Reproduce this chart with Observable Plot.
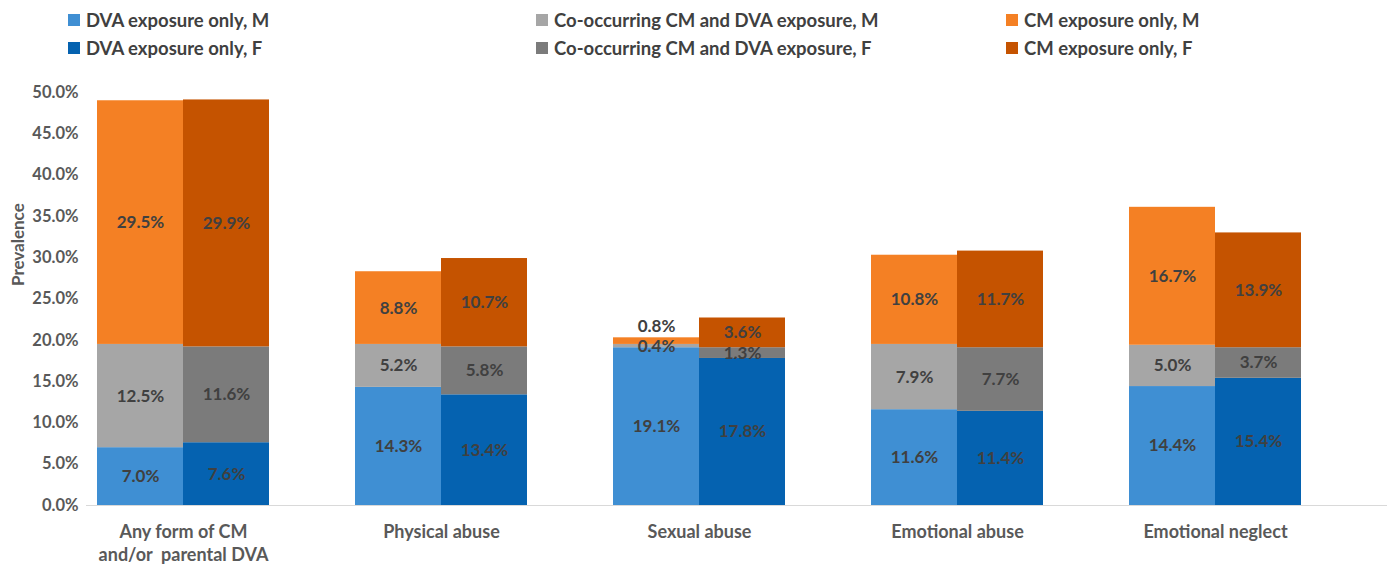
<!DOCTYPE html>
<html>
<head>
<meta charset="utf-8">
<script src="https://cdn.jsdelivr.net/npm/d3@7"></script>
<script src="https://cdn.jsdelivr.net/npm/@observablehq/plot@0.6"></script>
<style>
  html, body { margin: 0; padding: 0; background: #fff; }
  #wrap { width: 1392px; height: 568px; position: relative; font-family: Lato, "Open Sans", sans-serif; }
  #legend { position: relative; width: 1392px; height: 70px; }
  .item { position: absolute; display: flex; align-items: center; font-size: 18.5px; font-weight: bold; color: #404040; white-space: nowrap; }
  .sw { width: 12px; height: 12px; margin-right: 6px; }
  svg { display: block; }
</style>
</head>
<body>
<div id="wrap">
  <div id="legend"></div>
  <div id="chart"></div>
</div>
<script>
const categories = ["Any form of CM\nand/or  parental DVA", "Physical abuse", "Sexual abuse", "Emotional abuse", "Emotional neglect"];
const sexes = ["M", "F"];
const types = ["DVA exposure only", "Co-occurring CM and DVA exposure", "CM exposure only"];

const dvaM = [7.0, 14.3, 19.1, 11.6, 14.4];
const dvaF = [7.6, 13.4, 17.8, 11.4, 15.4];
const coM  = [12.5, 5.2, 0.4, 7.9, 5.0];
const coF  = [11.6, 5.8, 1.3, 7.7, 3.7];
const cmM  = [29.5, 8.8, 0.8, 10.8, 16.7];
const cmF  = [29.9, 10.7, 3.6, 11.7, 13.9];

const yTicks = [0, 5, 10, 15, 20, 25, 30, 35, 40, 45, 50];

const seriesNames = [
  "DVA exposure only, M", "DVA exposure only, F",
  "Co-occurring CM and DVA exposure, M", "Co-occurring CM and DVA exposure, F",
  "CM exposure only, M", "CM exposure only, F"
];
const seriesColors = ["#3f8fd3", "#0562b0", "#a6a6a6", "#7b7b7b", "#f48024", "#c55300"];

const values = {
  "DVA exposure only": {M: dvaM, F: dvaF},
  "Co-occurring CM and DVA exposure": {M: coM, F: coF},
  "CM exposure only": {M: cmM, F: cmF}
};

// Build rows with stacked extents
const rows = [];
categories.forEach((c, i) => {
  sexes.forEach(s => {
    let base = 0;
    types.forEach(t => {
      const v = values[t][s][i];
      rows.push({cat: c, sex: s, key: c + "|" + s, type: t, series: t + ", " + s, value: v, y1: base, y2: base + v, mid: base + v / 2});
      base += v;
    });
  });
});

// x domain: bars with gap slots between groups
const xDomain = [];
categories.forEach((c, i) => {
  xDomain.push(c + "|M", c + "|F");
  if (i < categories.length - 1) xDomain.push("gap" + i);
});

// Legend
const legend = document.getElementById("legend");
const legendPos = [[68, 9], [68, 37], [536, 9], [536, 37], [1006, 9], [1006, 37]];
seriesNames.forEach((n, i) => {
  const d = document.createElement("div");
  d.className = "item";
  d.style.left = legendPos[i][0] + "px";
  d.style.top = legendPos[i][1] + "px";
  d.innerHTML = `<span class="sw" style="background:${seriesColors[i]}"></span><span>${n}</span>`;
  legend.appendChild(d);
});

const xRange = [54, 1344];
const step = (xRange[1] - xRange[0]) / (xDomain.length + 1);

const isTinyTop = d => d.type === "CM exposure only" && d.value < 1;

const chart = Plot.plot({
  width: 1392,
  height: 498,
  marginLeft: 86,
  marginRight: 5,
  marginTop: 22,
  marginBottom: 63,
  style: {fontFamily: "Lato, 'Open Sans', sans-serif", background: "#fff"},
  x: {type: "band", domain: xDomain, range: xRange, padding: 0, paddingOuter: 0.5, axis: null},
  y: {domain: [0, 50], axis: null},
  color: {domain: seriesNames, range: seriesColors},
  marks: [
    Plot.barY(rows, {x: "key", y1: "y1", y2: "y2", fill: "series"}),
    Plot.ruleY([0], {stroke: "#d9d9d9", strokeWidth: 1}),
    Plot.axisY({
      ticks: yTicks, tickSize: 0, tickPadding: 8,
      tickFormat: d => d.toFixed(1) + "%",
      fontSize: 16.5, fontWeight: "bold", fill: "#595959", label: null
    }),
    Plot.text(["Prevalence"], {frameAnchor: "left", rotate: -90, dx: -68, dy: -13, fontSize: 17, fontWeight: "bold", fill: "#595959"}),
    Plot.text(rows.filter(d => !isTinyTop(d)), {x: "key", y: "mid", text: d => d.value.toFixed(1) + "%", fontSize: 17, fontWeight: "bold", fill: "#404040"}),
    Plot.text(rows.filter(isTinyTop), {x: "key", y: "mid", text: d => d.value.toFixed(1) + "%", dy: -15, fontSize: 17, fontWeight: "bold", fill: "#404040"}),
    Plot.text(categories, {x: c => c + "|M", frameAnchor: "bottom", dx: step / 2, dy: 15, lineAnchor: "top", lineHeight: 1.33, text: d => d, fontSize: 18, fontWeight: "bold", fill: "#595959"})
  ]
});
document.getElementById("chart").appendChild(chart);
</script>
</body>
</html>
